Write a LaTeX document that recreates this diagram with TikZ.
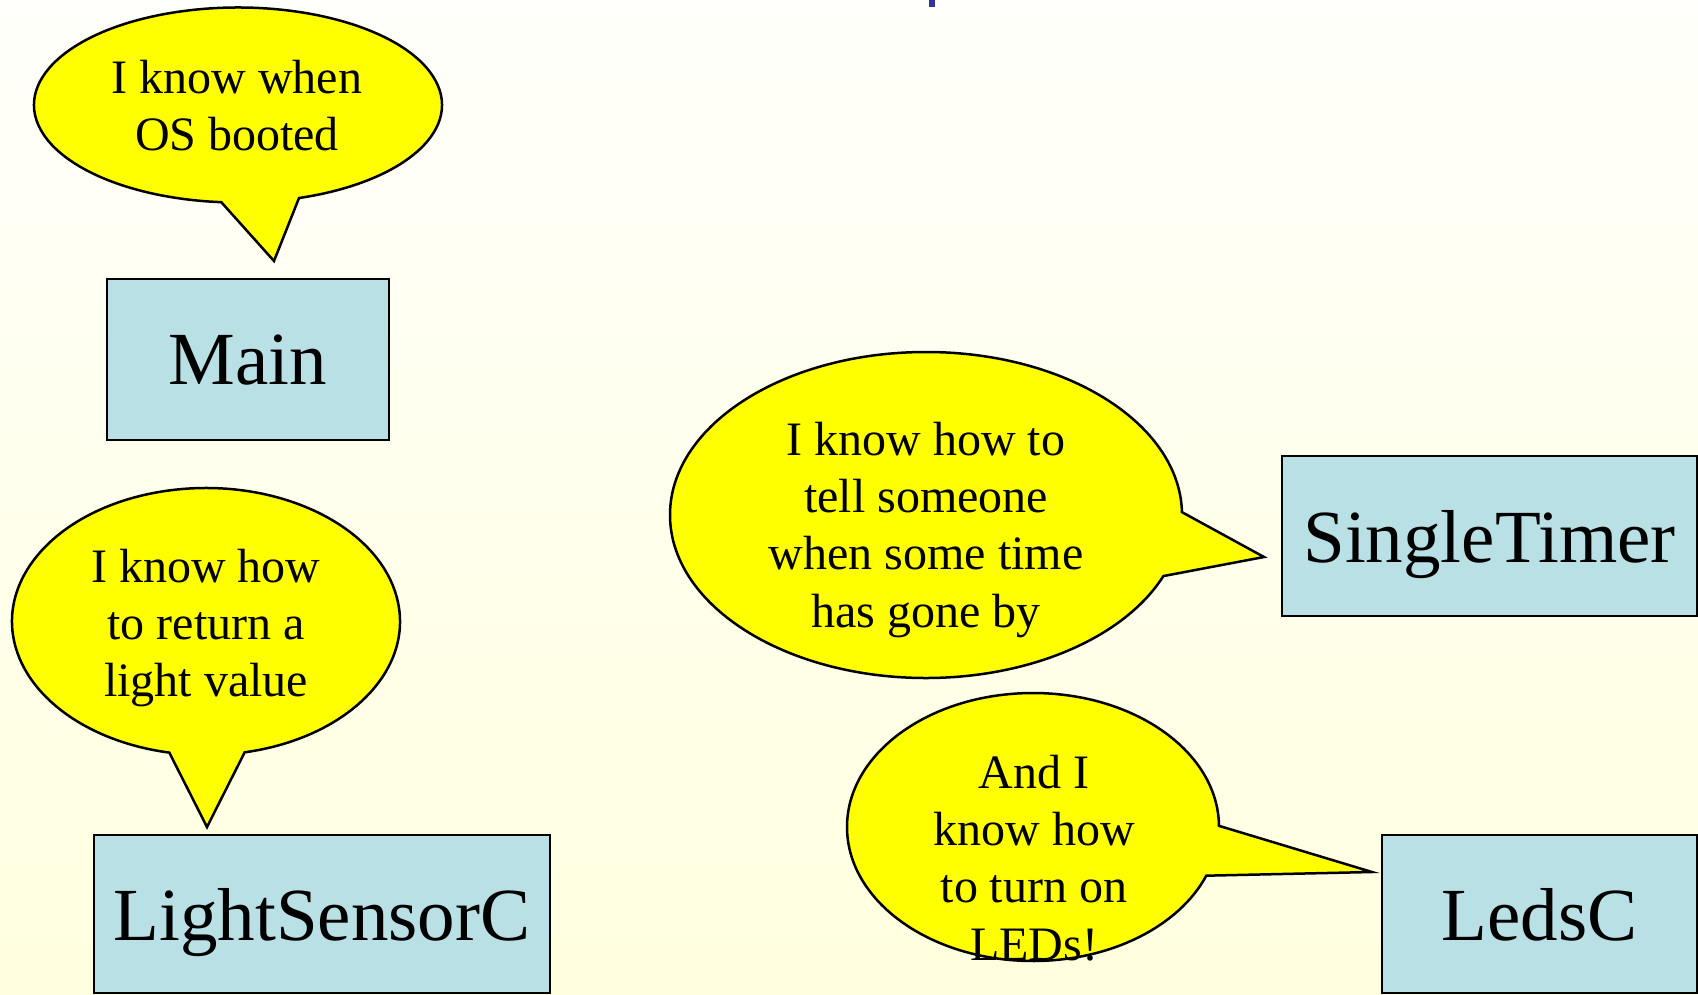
\documentclass[tikz,border=0pt]{standalone}
\usepackage{fontspec}
\setmainfont{Liberation Serif}
\usetikzlibrary{calc}
\definecolor{bgtop}{RGB}{255,255,251}
\definecolor{bgbot}{RGB}{255,255,223}
\definecolor{boxblue}{RGB}{185,224,228}
\definecolor{bubbleyellow}{RGB}{255,255,0}
\definecolor{titleblue}{RGB}{51,51,153}
\tikzset{
  boxnode/.style={draw=black, line width=2.5pt, fill=boxblue, inner sep=0pt, text depth=0pt,
    font=\fontsize{75}{90}\selectfont},
  bubble/.style={draw=black, line width=2.5pt, fill=bubbleyellow, line join=miter},
  bubbletext/.style={align=center, inner sep=0pt, font=\fontsize{48}{57.4}\selectfont},
}
% #1 centre, #2 x radius, #3 y radius, #4 start angle, #5 end angle, #6 tip
\newcommand\speechbubble[6]{%
  \path[bubble] ($(#1)+(#5:#2pt and #3pt)$) -- (#6) -- ($(#1)+(#4:#2pt and #3pt)$)
    arc[start angle=#4, end angle=#5, x radius=#2pt, y radius=#3pt] -- cycle;}
\begin{document}
\begin{tikzpicture}[x=1pt, y=-1pt]
\useasboundingbox (0,0) rectangle (1698,994);
\clip (0,0) rectangle (1698,994);
\shade[top color=bgtop, bottom color=bgbot] (0,0) rectangle (1698,994);
\fill[titleblue] (929,0) rectangle (935,7);

% centres and tips of the speech bubbles
\coordinate (c1) at (238,105);   \coordinate (tip1) at (274,261);
\coordinate (c2) at (206,621.5); \coordinate (tip2) at (207,827);
\coordinate (c3) at (926,515);   \coordinate (tip3) at (1264,557);
\coordinate (c4) at (1033,827);  \coordinate (tip4) at (1372,872);

\speechbubble{c1}{204}{97.5}{287.4}{625.3}{tip1}
\speechbubble{c2}{194}{133.5}{281.5}{619.1}{tip2}
\speechbubble{c3}{256}{163}{1}{338}{tip3}
\speechbubble{c4}{186}{134}{0.5}{338.7}{tip4}

\node[bubbletext] (t1) at (237,105.6) {I know when\\OS booted};
\node[bubbletext] (t2) at (206,628) {I know how\\to return a\\light value};
\node[bubbletext] (t3) at (926,529.7) {I know how to\\tell someone\\when some time\\has gone by};
\node[bubbletext] (t4) at (1034,857.8) {And I\\know how\\to turn on\\LEDs!};

\node[boxnode, minimum width=282pt, minimum height=161pt] (main) at (248,359.5) {Main};
\node[boxnode, minimum width=456pt, minimum height=158pt] (light) at (322,914) {LightSensorC};
\node[boxnode, minimum width=415pt, minimum height=160pt] (timer) at (1489.5,536) {SingleTimer};
\node[boxnode, minimum width=315pt, minimum height=158pt] (leds) at (1539.5,914) {LedsC};
\end{tikzpicture}
\end{document}
